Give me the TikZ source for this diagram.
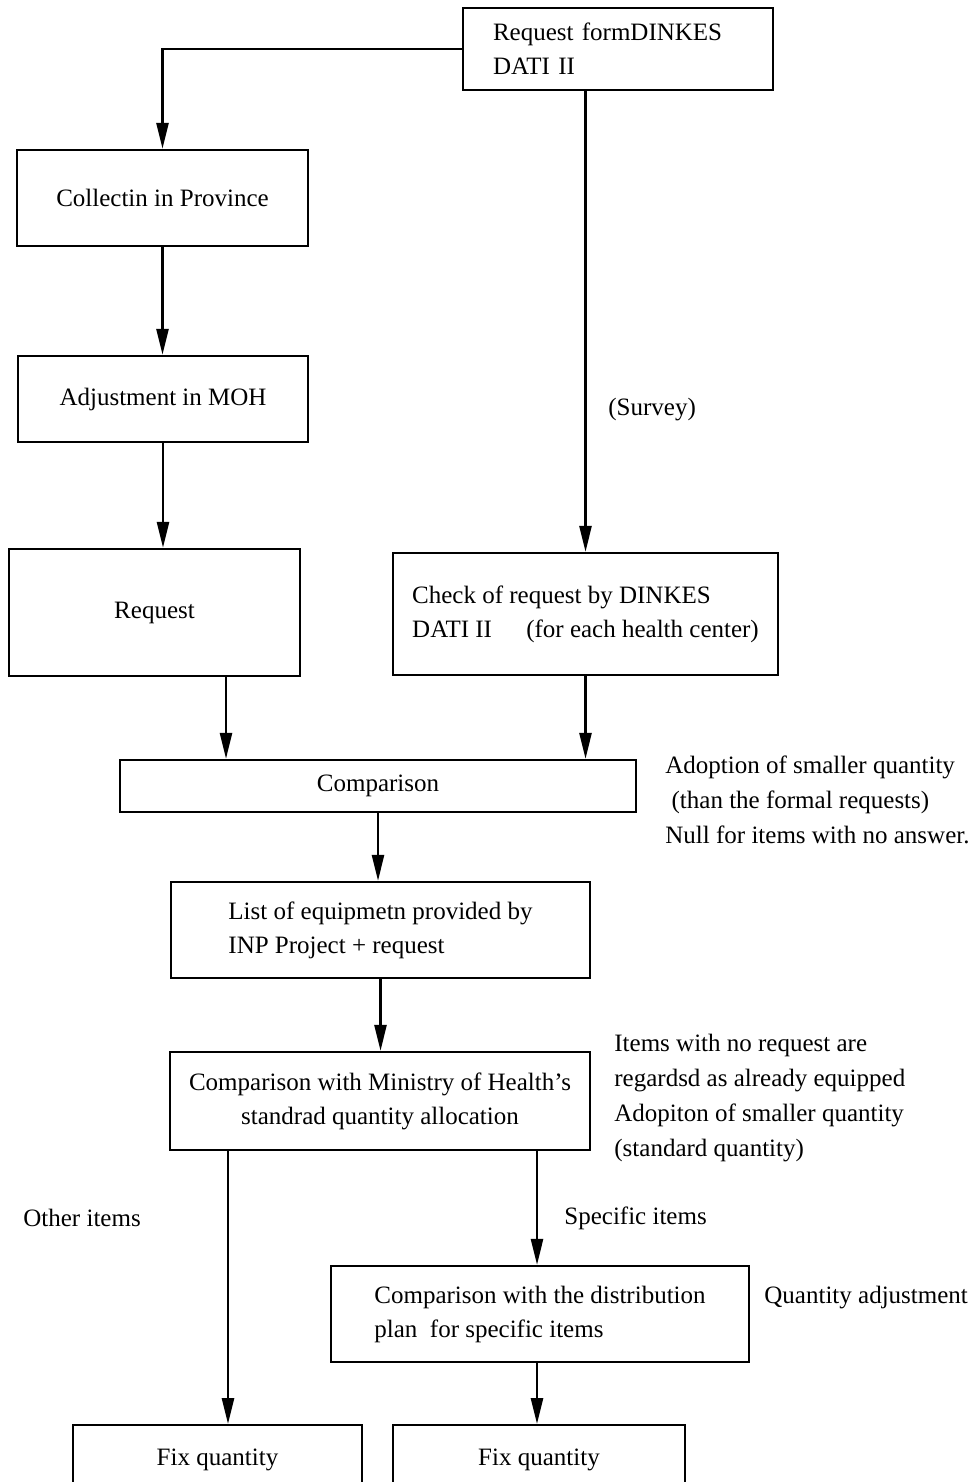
\documentclass[tikz,border=0pt]{standalone}
\usepackage{fontspec}
\setmainfont{Liberation Serif}
\usetikzlibrary{arrows.meta}
\tikzstyle{stage}=[draw=black, line width=1.1pt, inner sep=0pt, font=\fontsize{12.5}{17}\selectfont]
\tikzstyle{note}=[inner sep=0pt, align=left, font=\fontsize{12.5}{17.5}\selectfont]
\tikzstyle{flow}=[line width=1.3pt, -{Triangle[length=13pt, width=6pt]}]

\begin{document}
\begin{tikzpicture}[x=0.5pt, y=-0.5pt]
	\clip (0,0) rectangle (979,1482);

	% Request side
	\node[stage, text width=125pt, inner xsep=15pt, minimum height=41pt, align=left] (req) at (618,49) {Request formDINKES\\DATI II};
	\node[stage, minimum width=145.5pt, minimum height=48pt] (coll) at (162.5,198) {Collectin in Province};
	\node[stage, minimum width=145pt, minimum height=43pt] (adj) at (163,399) {Adjustment in MOH};
	\node[stage, minimum width=145.5pt, minimum height=63.5pt] (rq) at (154.5,612.5) {Request\hspace{13pt}};
	\node[stage, minimum width=192.5pt, minimum height=61pt, align=left] (chk) at (585.5,614) {Check of request by DINKES\\DATI II\hspace{14pt} (for each health center)};

	% Comparison chain
	\node[stage, minimum width=258pt, minimum height=26pt] (cmp) at (378,786) {Comparison};
	\node[stage, minimum width=209.5pt, minimum height=48pt, align=left] (lst) at (380.5,930) {List of equipmetn provided by\\INP Project + request};
	\node[stage, minimum width=210pt, minimum height=49pt, align=center] (min) at (380,1101) {Comparison with Ministry of Health's\\standrad quantity allocation};
	\node[stage, minimum width=209pt, minimum height=48pt, align=left] (spec) at (540,1314) {Comparison with the distribution\\plan\ \ for specific items};
	\node[stage, anchor=north, minimum width=144.5pt, minimum height=35pt] (fix1) at (217.5,1424) {Fix quantity};
	\node[stage, anchor=north, minimum width=146pt, minimum height=35pt] (fix2) at (539,1424) {Fix quantity};

	% Notes
	\node[note, anchor=west] (survey) at (608,410) {(Survey)};
	\node[note, anchor=north west] (cmpnote) at (665,755) {Adoption of smaller quantity\\\ (than the formal requests)\\Null for items with no answer.};
	\node[note, anchor=north west] (minnote) at (614,1034) {Items with no request are\\regardsd as already equipped\\Adopiton of smaller quantity\\(standard quantity)};
	\node[note, anchor=west] (other) at (23,1218) {Other items};
	\node[note, anchor=west] (specific) at (564,1218) {Specific items};
	\node[note, anchor=west] (qadj) at (764,1298) {Quantity adjustment};

	\coordinate (xa) at (226,0);
	\coordinate (xb) at (228,0);
	\coordinate (xc) at (537,0);

	% Connectors
	\draw[flow] (req.west) -| (coll.north);
	\draw[flow] (coll.south) -- (coll.south |- adj.north);
	\draw[flow] (adj.south) -- (adj.south |- rq.north);
	\draw[flow] (chk.north |- req.south) -- (chk.north);
	\draw[flow] (rq.south -| xa) -- (cmp.north -| xa);
	\draw[flow] (chk.south) -- (chk.south |- cmp.north);
	\draw[flow] (cmp.south) -- (cmp.south |- lst.north);
	\draw[flow] (lst.south) -- (lst.south |- min.north);
	\draw[flow] (min.south -| xb) -- (fix1.north -| xb);
	\draw[flow] (min.south -| xc) -- (spec.north -| xc);
	\draw[flow] (spec.south -| xc) -- (fix2.north -| xc);
\end{tikzpicture}
\end{document}
